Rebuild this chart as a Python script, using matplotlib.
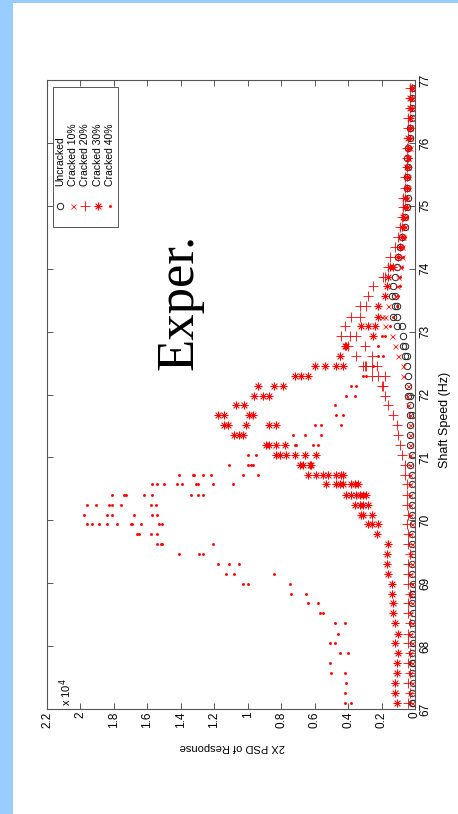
import matplotlib
matplotlib.use("Agg")
import matplotlib.pyplot as plt
from matplotlib.patches import Rectangle

plt.rcParams["font.family"] = ["Liberation Sans", "DejaVu Sans"]

# ── data (2X PSD in units of 1e4, one list of repeats per speed) ──────────────
speed = [67.10, 67.26, 67.41, 67.57, 67.73, 67.89, 68.05, 68.20, 68.36, 68.52,
         68.68, 68.83, 68.99, 69.15, 69.31, 69.46, 69.62, 69.78, 69.94, 70.09,
         70.25, 70.41, 70.57, 70.72, 70.88, 71.04, 71.20, 71.35, 71.51, 71.67,
         71.83, 71.98, 72.14, 72.30, 72.46, 72.61, 72.77, 72.93, 73.09, 73.24,
         73.40, 73.56, 73.72, 73.87, 74.03, 74.19, 74.35, 74.50, 74.66, 74.82,
         74.98, 75.13, 75.29, 75.45, 75.61, 75.76, 75.92, 76.08, 76.24, 76.39,
         76.55, 76.71, 76.87]

psd_uncracked = [
    [0.02, 0.01], [0.02], [0.01], [0.02], [0.02, 0.01], [0.02], [0.01], [0.02], [0.02], [0.01],
    [0.02], [0.02, 0.01], [0.01], [0.02], [0.02], [0.01], [0.02], [0.02], [0.01], [0.02],
    [0.02], [0.02], [0.02], [0.02], [0.03], [0.02], [0.03], [0.03], [0.03], [0.03, 0.02],
    [0.03], [0.04, 0.03], [0.04], [0.04], [0.05], [0.06, 0.05], [0.07, 0.06], [0.07], [0.11, 0.08], [0.13, 0.11],
    [0.12, 0.11], [0.14, 0.12], [0.13], [0.12], [0.11], [0.10], [0.09], [0.08], [0.06], [0.06],
    [0.05], [0.04], [0.05], [0.05], [0.04], [0.05], [0.04], [0.03], [0.03], [0.02],
    [0.02], [0.02], [0.01]]

psd_crack10 = [
    [0.02], [0.03], [0.02], [0.03], [0.02], [0.03], [0.02], [0.03], [0.02], [0.03],
    [0.02], [0.03], [0.02], [0.03], [0.02], [0.03], [0.02], [0.03], [0.02], [0.03],
    [0.03], [0.03], [0.03], [0.03], [0.03], [0.03], [0.03], [0.03], [0.03], [0.03],
    [0.04], [0.05], [0.04], [0.07], [0.07], [0.10], [0.12], [0.14], [0.18], [0.20, 0.18],
    [0.16], [0.12], [0.11], [0.10], [0.09], [0.08], [0.08], [0.07], [0.06], [0.06],
    [0.05], [0.05], [0.04], [0.04], [0.04], [0.04], [0.03], [0.03], [0.03], [0.03],
    [0.02], [0.02], [0.02]]

psd_crack20 = [
    [0.04], [0.03], [0.04], [0.03], [0.04], [0.03], [0.04], [0.04], [0.03], [0.04],
    [0.04], [0.03], [0.04], [0.04], [0.04], [0.03], [0.04], [0.04], [0.05], [0.04],
    [0.05], [0.05], [0.05], [0.06], [0.06], [0.08], [0.09], [0.10], [0.11], [0.13],
    [0.16], [0.18], [0.20, 0.19], [0.26, 0.22, 0.18], [0.31, 0.30, 0.29, 0.26, 0.23], [0.35, 0.26], [0.40, 0.30], [0.44, 0.39, 0.35], [0.42], [0.38, 0.33],
    [0.33, 0.29], [0.28], [0.25], [0.19, 0.18], [0.16], [0.15], [0.12], [0.10], [0.09], [0.08],
    [0.07], [0.07], [0.06], [0.06], [0.05], [0.05], [0.05], [0.04], [0.04], [0.04],
    [0.03], [0.03], [0.03]]

psd_crack30 = [
    [0.11], [0.12], [0.12], [0.11], [0.11], [0.10], [0.12], [0.10], [0.12], [0.13],
    [0.13], [0.14], [0.14], [0.16], [0.17], [0.17], [0.16], [0.23], [0.28, 0.26, 0.22], [0.32, 0.31, 0.26],
    [0.36, 0.33, 0.31, 0.28], [0.41, 0.38, 0.35, 0.33, 0.31, 0.29],
    [0.53, 0.47, 0.45, 0.43, 0.38, 0.36, 0.34], [0.64, 0.59, 0.55, 0.52, 0.47, 0.44, 0.43],
    [0.69, 0.67, 0.63, 0.62], [0.83, 0.81, 0.77, 0.72, 0.66, 0.59], [0.89, 0.87, 0.83, 0.78],
    [1.08, 1.05, 1.03], [1.14, 1.12, 1.01, 0.87, 0.83], [1.18, 1.14, 0.99, 0.97],
    [1.07, 1.02], [0.96, 0.91, 0.87], [0.94, 0.84, 0.79], [0.72, 0.68, 0.64], [0.60, 0.54, 0.47, 0.43],
    [0.45], [0.42, 0.41], [0.25], [0.32, 0.28, 0.24], [0.22],
    [0.22], [0.18], [0.17], [0.16], [0.15, 0.13], [0.10], [0.09], [0.08], [0.08], [0.07],
    [0.06], [0.06], [0.05], [0.05], [0.05], [0.04], [0.04], [0.04], [0.03], [0.03],
    [0.03], [0.03], [0.02]]

psd_crack40 = [
    [0.42, 0.38], [0.42], [0.41], [0.50, 0.42], [0.51], [0.45, 0.40], [0.51, 0.48], [0.46], [0.48, 0.42], [0.57, 0.55],
    [0.64, 0.58], [0.74, 0.65], [1.03, 1.00, 0.75], [1.13, 1.08, 0.84], [1.18, 1.11, 1.05],
    [1.41, 1.29, 1.27], [1.54, 1.52, 1.51, 1.21], [1.66, 1.65, 1.58, 1.54],
    [1.96, 1.93, 1.89, 1.84, 1.78, 1.70, 1.69, 1.64, 1.53, 1.51],
    [1.98, 1.84, 1.81, 1.68, 1.57, 1.54],
    [1.96, 1.91, 1.83, 1.81, 1.76, 1.58, 1.55],
    [1.81, 1.74, 1.73, 1.62, 1.57, 1.34, 1.30, 1.27],
    [1.57, 1.54, 1.50, 1.42, 1.39, 1.31, 1.30, 1.21, 1.09],
    [1.41, 1.33, 1.32, 1.27, 1.22, 1.03, 0.94],
    [1.11, 1.00, 0.98, 0.97], [1.00, 0.95], [0.72, 0.71, 0.61, 0.58], [0.73, 0.66, 0.56], [0.60, 0.56, 0.44],
    [0.47, 0.43], [0.48], [0.41, 0.36], [0.38, 0.35], [0.31, 0.29], [0.25], [0.22, 0.19], [0.22], [0.20, 0.18], [0.15],
    [0.13], [0.11], [0.10], [0.09], [0.09], [0.08], [0.07], [0.07], [0.06], [0.06],
    [0.05], [0.05], [0.05], [0.04], [0.04], [0.04], [0.04], [0.03], [0.03], [0.03],
    [0.03], [0.02], [0.02]]

series_labels = ["Uncracked", "Cracked 10%", "Cracked 20%", "Cracked 30%", "Cracked 40%"]
psd_ticks = [0, 0.2, 0.4, 0.6, 0.8, 1, 1.2, 1.4, 1.6, 1.8, 2, 2.2]
psd_ticklabels = ["0", "0.2", "0.4", "0.6", "0.8", "1", "1.2", "1.4", "1.6", "1.8", "2", "2.2"]
speed_ticks = [67, 68, 69, 70, 71, 72, 73, 74, 75, 76, 77]

# styles: marker, size, edge width, face, edge
STYLES = [
    dict(marker="o", ms=4.6, mew=0.7, mfc="none", mec="#222222"),
    dict(marker="x", ms=3.6, mew=0.6, mfc="none", mec="#ff2020"),
    dict(marker="+", ms=6.5, mew=0.6, mfc="none", mec="#ff0000"),
    dict(marker=(8, 2, 0), ms=5.6, mew=0.55, mfc="none", mec="#ff0000"),
    dict(marker="o", ms=2.1, mew=0.0, mfc="#ff0000", mec="#ff0000"),
]


def flatten(values):
    xs, ys = [], []
    for s, reps in zip(speed, values):
        for v in reps:
            xs.append(v)
            ys.append(s)
    return xs, ys


fig = plt.figure(figsize=(4.58, 8.14), dpi=100)
fig.patch.set_facecolor("white")

# blue slide border
fig.patches.append(Rectangle((0, 0), 13 / 458, 1, transform=fig.transFigure,
                             facecolor="#99ccff", edgecolor="none", zorder=0))
fig.patches.append(Rectangle((0, 1 - 3 / 814), 1, 3 / 814, transform=fig.transFigure,
                             facecolor="#99ccff", edgecolor="none", zorder=0))

ax = fig.add_axes([47 / 458, 105 / 814, 368 / 458, 629 / 814])

all_series = [psd_uncracked, psd_crack10, psd_crack20, psd_crack30, psd_crack40]
for vals, st in zip(all_series, STYLES):
    xs, ys = flatten(vals)
    ax.plot(xs, ys, linestyle="none", **st)

ax.set_xlim(2.2, 0)
ax.set_ylim(67, 77)

ax.set_xticks(psd_ticks)
ax.set_xticklabels(psd_ticklabels, rotation=90, fontsize=8.5)
ax.set_yticks(speed_ticks)
ax.set_yticklabels([str(t) for t in speed_ticks], rotation=90, va="center", fontsize=8.5)
ax.tick_params(axis="x", bottom=True, top=True, labelbottom=True, labeltop=False,
               direction="in", length=4, width=0.7, color="#555555", pad=2)
ax.tick_params(axis="y", left=True, right=True, labelleft=False, labelright=True,
               direction="in", length=4, width=0.7, color="#555555", pad=3)
for sp in ax.spines.values():
    sp.set_color("#555555")
    sp.set_linewidth(0.8)

# axis labels (rotated with the whole chart)
ax.text(0.503, -0.060, "2X PSD of Response", transform=ax.transAxes,
        rotation=180, ha="center", va="center", fontsize=8)
ax.text(1.0815, 0.459, "Shaft Speed (Hz)", transform=ax.transAxes,
        rotation=90, ha="center", va="center", fontsize=9)
ax.text(0.05, 0.004, "x 10$^4$", transform=ax.transAxes,
        rotation=90, ha="center", va="bottom", fontsize=8)

ax.text(0.36, 0.647, "Exper.", transform=ax.transAxes, rotation=90,
        ha="center", va="center", fontsize=38, family="Liberation Serif")

# legend drawn by hand so its entries can be rotated
ax.add_patch(Rectangle((0.0163, 0.766), 0.177, 0.223, transform=ax.transAxes,
                       facecolor="white", edgecolor="#555555", linewidth=0.7,
                       zorder=5, clip_on=False))
leg_x = [0.0353, 0.0698, 0.1033, 0.1378, 0.172]
for lx, lab, st in zip(leg_x, series_labels, STYLES):
    ax.plot([lx], [0.7997], transform=ax.transAxes, linestyle="none",
            clip_on=False, zorder=6, **st)
    ax.text(lx, 0.832, lab, transform=ax.transAxes, rotation=90,
            ha="center", va="bottom", fontsize=7.5, zorder=6)

fig.savefig("out.png", dpi=100)
plt.close(fig)
